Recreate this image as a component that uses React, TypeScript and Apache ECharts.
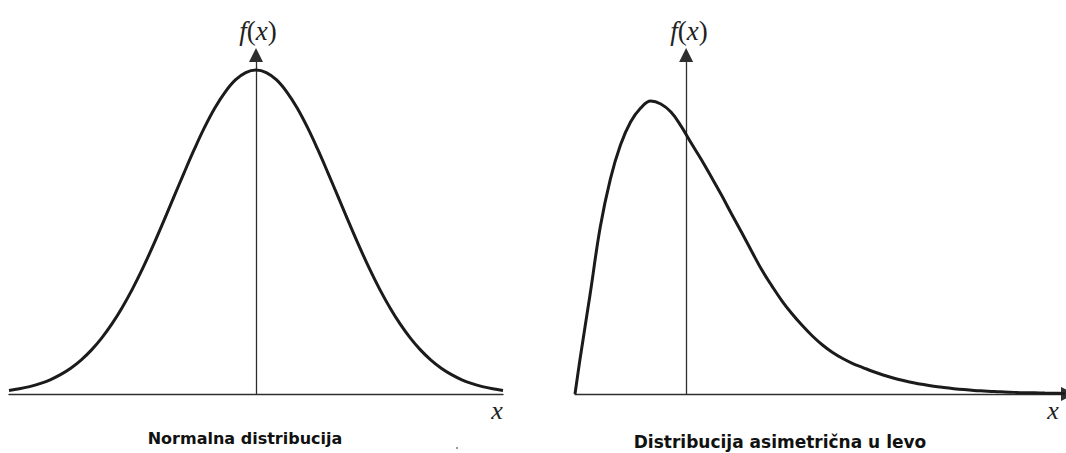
import React, { useEffect, useRef } from "react";
import * as echarts from "echarts";

// Symmetric (normal) density, x in standard deviations
const normalX = [
  -3, -2.875, -2.75, -2.625, -2.5, -2.375, -2.25, -2.125, -2, -1.875, -1.75,
  -1.625, -1.5, -1.375, -1.25, -1.125, -1, -0.875, -0.75, -0.625, -0.5, -0.375,
  -0.25, -0.125, 0, 0.125, 0.25, 0.375, 0.5, 0.625, 0.75, 0.875, 1, 1.125, 1.25,
  1.375, 1.5, 1.625, 1.75, 1.875, 2, 2.125, 2.25, 2.375, 2.5, 2.625, 2.75, 2.875, 3,
];
const normalY = [
  0.0044, 0.0064, 0.0091, 0.0127, 0.0175, 0.0238, 0.0317, 0.0417, 0.054, 0.0688,
  0.0863, 0.1066, 0.1295, 0.155, 0.1826, 0.2119, 0.242, 0.272, 0.3011, 0.3282,
  0.3521, 0.3718, 0.3867, 0.3958, 0.3989, 0.3958, 0.3867, 0.3718, 0.3521, 0.3282,
  0.3011, 0.272, 0.242, 0.2119, 0.1826, 0.155, 0.1295, 0.1066, 0.0863, 0.0688,
  0.054, 0.0417, 0.0317, 0.0238, 0.0175, 0.0127, 0.0091, 0.0064, 0.0044,
];

// Skewed density with a long right tail (mode near x = -0.7)
const skewX = [
  -2.2, -2.1, -1.9, -1.7, -1.5, -1.3, -1.1, -0.9, -0.7, -0.5, -0.3, -0.1, 0.1,
  0.3, 0.5, 0.7, 0.9, 1.1, 1.3, 1.5, 1.7, 1.9, 2.1, 2.3, 2.5, 2.7, 2.9, 3.1, 3.3,
  3.5, 3.7, 3.9, 4.1, 4.3, 4.5, 4.7, 4.9, 5.1, 5.3, 5.5, 5.7, 5.9, 6.1, 6.3, 6.5,
  6.7, 6.9, 7.1, 7.3, 7.5,
];
const skewY = [
  0, 0.0431, 0.1231, 0.2056, 0.2647, 0.3065, 0.3348, 0.3521, 0.3607, 0.357,
  0.3471, 0.3299, 0.309, 0.2887, 0.2671, 0.245, 0.2216, 0.1988, 0.1754, 0.1526,
  0.1329, 0.1145, 0.0985, 0.0843, 0.0714, 0.0603, 0.0511, 0.0437, 0.0375, 0.0326,
  0.0277, 0.0234, 0.0197, 0.0166, 0.0139, 0.0116, 0.0096, 0.008, 0.0066, 0.0054,
  0.0044, 0.0037, 0.003, 0.0025, 0.002, 0.0016, 0.0014, 0.0011, 0.0009, 0.0006,
];

const panelTitles = ["Normalna distribucija", "Distribucija asimetrična u levo"];
const yName = ["f", "x"];
const xName = "x";

const Y_MAX = 0.4174;
const AXIS_COLOR = "#2e2e2e";
const CURVE_COLOR = "#1b1b1b";

function zip(xs: number[], ys: number[]) {
  return xs.map((x, i) => [x, ys[i]]);
}

export default function App() {
  const ref = useRef<HTMLDivElement>(null);

  useEffect(() => {
    const chart = echarts.init(ref.current!, null, { renderer: "svg" });

    const axisLine = (withArrow: boolean) => ({
      show: true,
      lineStyle: { color: AXIS_COLOR, width: 1.3 },
      symbol: withArrow ? ["none", "triangle"] : ["none", "none"],
      symbolSize: [14, 14],
    });
    const hidden = {
      axisTick: { show: false },
      axisLabel: { show: false },
      splitLine: { show: false },
    };

    const fxText = (x: number) => ({
      type: "text",
      x,
      y: 31,
      style: {
        text: `{i|${yName[0]}}{r|(}{i|${yName[1]}}{r|)}`,
        align: "center",
        verticalAlign: "middle",
        fill: "#222",
        rich: {
          i: { fontFamily: "Liberation Serif", fontStyle: "italic", fontSize: 27, fill: "#222" },
          r: { fontFamily: "Liberation Serif", fontSize: 27, fill: "#222" },
        },
      },
    });
    const xText = (x: number) => ({
      type: "text",
      x,
      y: 410,
      style: {
        text: xName,
        align: "center",
        verticalAlign: "middle",
        fontFamily: "Liberation Serif",
        fontStyle: "italic",
        fontSize: 26,
        fill: "#222",
      },
    });
    const titleText = (text: string, x: number, y: number, size: number) => ({
      type: "text",
      x,
      y,
      style: {
        text,
        align: "center",
        verticalAlign: "middle",
        fontFamily: "DejaVu Sans",
        fontWeight: "bold",
        fontSize: size,
        fill: "#111",
      },
    });

    const curve = (idx: number, data: number[][]) => ({
      type: "line",
      xAxisIndex: idx,
      yAxisIndex: idx,
      data,
      smooth: 0.4,
      showSymbol: false,
      lineStyle: { color: CURVE_COLOR, width: 3 },
      silent: true,
    });

    chart.setOption({
      animation: false,
      backgroundColor: "#ffffff",
      grid: [
        { left: 9, width: 494, top: 55, bottom: 59, outerBoundsMode: "none" },
        { left: 575, width: 495, top: 55, bottom: 59, outerBoundsMode: "none" },
      ],
      xAxis: [
        { gridIndex: 0, type: "value", min: -3, max: 3, axisLine: { ...axisLine(false), onZero: false }, ...hidden },
        {
          gridIndex: 1,
          type: "value",
          min: -2.2,
          max: 7.6,
          axisLine: { ...axisLine(true), onZero: false, symbolOffset: [0, -2] },
          ...hidden,
        },
      ],
      yAxis: [
        { gridIndex: 0, type: "value", min: 0, max: Y_MAX, axisLine: { ...axisLine(true), onZero: true }, ...hidden },
        { gridIndex: 1, type: "value", min: 0, max: Y_MAX, axisLine: { ...axisLine(true), onZero: true }, ...hidden },
      ],
      series: [curve(0, zip(normalX, normalY)), curve(1, zip(skewX, skewY))],
      graphic: [
        fxText(258),
        fxText(689),
        xText(497),
        xText(1053),
        titleText(panelTitles[0], 245, 438, 16),
        titleText(panelTitles[1], 780, 442, 17),
        { type: "rect", shape: { x: 456, y: 447, width: 2, height: 2 }, style: { fill: "#999" } },
      ],
    });

    return () => chart.dispose();
  }, []);

  return (
    <div
      ref={ref}
      style={{ position: "fixed", left: 0, top: 0, width: 1066, height: 453, background: "#fff" }}
    />
  );
}
